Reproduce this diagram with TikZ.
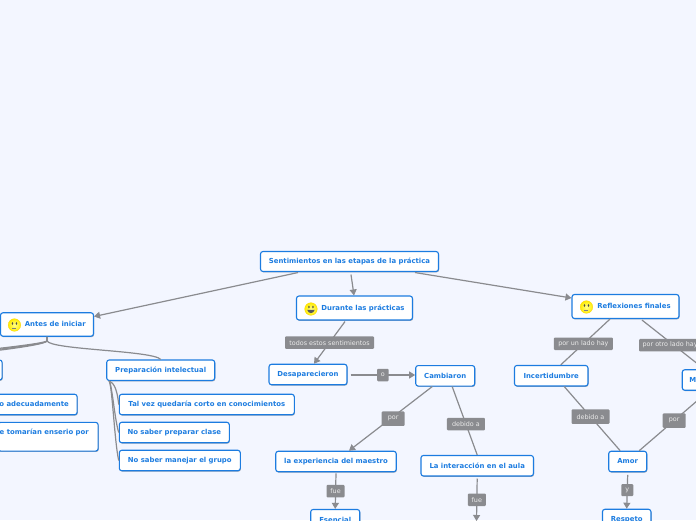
\documentclass[tikz,border=0pt]{standalone}
\usepackage{fontspec}
\setmainfont{DejaVu Sans}
\usetikzlibrary{arrows.meta,positioning,calc,shadows}
\definecolor{mapbg}{HTML}{F3F6FF}
\definecolor{mapblue}{HTML}{1C7CE0}
\definecolor{mapgray}{HTML}{8A8B8F}
\tikzset{
  carita/.pic={
    \shade[inner color=yellow!45!white,outer color=yellow!85!orange,draw=yellow!70!orange,line width=.3pt] (0,0) circle (6.3);
    \fill[black!70] (-2,-1.5) ellipse (.8 and 1.5) (2,-1.5) ellipse (.8 and 1.5);
    \draw[black!50,line width=.6pt] (-2,3) -- (2,3);
  },
  caritafeliz/.pic={
    \shade[inner color=yellow!45!white,outer color=yellow!85!orange,draw=yellow!70!orange,line width=.3pt] (0,0) circle (6.3);
    \fill[black!70] (-2,-2) ellipse (.8 and 1.5) (2,-2) ellipse (.8 and 1.5);
    \fill[black!65] (-3.8,.8) .. controls (-2.5,5.2) and (2.5,5.2) .. (3.8,.8) -- cycle;
  }
}
\begin{document}
\begin{tikzpicture}[x=1pt,y=-1pt,
    n/.style={draw=mapblue,fill=white,rounded corners=2.5pt,line width=1.1pt,inner sep=0pt,
    text=mapblue,text height=6pt,text depth=1.2pt,font=\fontsize{6.9}{9}\selectfont\bfseries,
    drop shadow={shadow xshift=.6pt,shadow yshift=-.9pt,opacity=.3,fill=black}},
    lab/.style={fill=mapgray,rounded corners=1pt,text=white!92!black,inner sep=0pt,minimum height=12.5pt,
    font=\fontsize{6.4}{8}\selectfont},
    a/.style={-{Triangle[length=6pt,width=7pt]},line width=1.2pt,mapgray},
    l/.style={line width=1.2pt,mapgray}]
    \path[use as bounding box,clip] (0,0) rectangle (696,520);
    \fill[mapbg] (0,0) rectangle (696,520);
    % nodos
    \node[n,minimum width=178pt,minimum height=20pt] (root) at (349.5,261.5) {Sentimientos en las etapas de la práctica};
    \node[n,minimum width=93pt,minimum height=23.5pt] (antes) at (47,324.5) {\hspace*{16.6pt}Antes de iniciar};
    \node[n,minimum width=116pt,minimum height=24pt] (durante) at (354.5,308) {\hspace*{17pt}Durante las prácticas};
    \node[n,minimum width=107pt,minimum height=24pt] (reflex) at (625.5,306.5) {\hspace*{17pt}Reflexiones finales};
    \node[n,minimum width=78pt,minimum height=20.5pt] (desap) at (308,374.5) {Desaparecieron};
    \node[n,minimum width=59pt,minimum height=20.5pt] (camb) at (445.2,375.8) {Cambiaron};
    \node[n,minimum width=120.5pt,minimum height=20.5pt] (exper) at (336,461.5) {la experiencia del maestro};
    \node[n,minimum width=112.5pt,minimum height=20.5pt] (inter) at (477.2,465.7) {La interacción en el aula};
    \node[n,minimum width=49pt,minimum height=20.5pt] (esen) at (335.2,519.7) {Esencial};
    \node[n,minimum width=73.5pt,minimum height=20.5pt] (incert) at (551.2,375.7) {Incertidumbre};
    \node[n,minimum width=40pt,minimum height=20.5pt,anchor=west,align=left,text width=32pt,inner xsep=7pt] (mm) at (681.7,380) {M\hfill};
    \node[n,minimum width=38pt,minimum height=20.5pt] (amor) at (627.7,461.5) {Amor};
    \node[n,minimum width=48.5pt,minimum height=20.5pt] (resp) at (626.7,519.5) {Respeto};
    \node[n,minimum width=120pt,minimum height=20pt,anchor=east] (izq) at (2.7,370) {};
    \node[n,minimum width=108pt,minimum height=20.5pt] (prep) at (160.7,370.2) {Preparación intelectual};
    \node[n,minimum width=86pt,minimum height=20.5pt,anchor=east] (adec) at (77.7,404.5) {o adecuadamente};
    \node[n,minimum width=100pt,minimum height=28.7pt,anchor=east] (ens) at (98.7,436.7) {};
    \node[anchor=east,text=mapblue,inner sep=0pt,text height=6pt,text depth=1.2pt,font=\fontsize{6.9}{9}\selectfont\bfseries] (enstxt) at (89,432.3) {e tomarían enserio por};
    \node[n,minimum width=175pt,minimum height=20.5pt] (tal) at (206.8,404.5) {Tal vez quedaría corto en conocimientos};
    \node[n,minimum width=110pt,minimum height=20.5pt] (clase) at (174.3,432.5) {No saber preparar clase};
    \node[n,minimum width=121pt,minimum height=20.5pt] (grupo) at (179.8,460.5) {No saber manejar el grupo};
    \coordinate (abajo) at (476.5,521);
    \coordinate (fuera1) at (-6,349);
    \coordinate (fuera2) at (-6,350);
    \coordinate (fuera3) at (-6,351);
    % caritas
    \pic at ($(antes.west)+(14.5,.5)$) {carita};
    \pic at ($(durante.west)+(15,1)$) {caritafeliz};
    \pic at ($(reflex.west)+(15,.5)$) {carita};
    % flechas
    \draw[a] ([xshift=-51.5pt,yshift=-.5pt]root.south) -- ([yshift=8pt]antes.east);
    \draw[a] ([xshift=1.5pt,yshift=-2.5pt]root.south) -- ([xshift=-.5pt]durante.north);
    \draw[a] ([xshift=65.5pt,yshift=-.5pt]root.south) -- ([yshift=8.5pt]reflex.west);
    \draw[a] ([xshift=-9.5pt,yshift=-1pt]durante.south) -- node[lab,minimum width=89pt,pos=.5] (t1) {todos estos sentimientos} ([xshift=6pt]desap.north);
    \draw[a] ([xshift=3pt,yshift=-.5pt]desap.east) -- node[lab,minimum width=11.5pt] (t2) {o} ([yshift=.8pt]camb.west);
    \draw[a] ([xshift=-13pt]camb.south) -- node[lab,minimum width=23pt,pos=.5,minimum height=14.5pt,xshift=2.5pt] (t3) {por} ([xshift=13pt]exper.north);
    \draw[l] ([xshift=7pt]camb.south) -- node[lab,minimum width=38pt,pos=.55] (t4) {debido a} (inter.north);
    \draw[a] ([yshift=-1pt]exper.south) -- node[lab,minimum width=18pt] (t5) {fue} (esen.north);
    \draw[a] ([yshift=-2pt]inter.south) -- node[lab,minimum width=18pt,pos=.5] (t6) {fue} (abajo);
    \draw[l] ([xshift=-15.5pt]reflex.south) -- node[lab,minimum width=59pt,pos=.54] (t7) {por un lado hay} ([xshift=9.5pt]incert.north);
    \draw[l] ([xshift=16.5pt,yshift=-1pt]reflex.south) -- node[lab,minimum width=62pt,pos=.48,yshift=-3pt] (t8) {por otro lado hay} ([xshift=-4.7pt,yshift=3pt]mm.north);
    \draw[l] ([xshift=13pt]incert.south) -- node[lab,minimum width=38pt,minimum height=14.5pt,pos=.47] (t9) {debido a} ([xshift=-7.5pt]amor.north);
    \draw[l] ([yshift=-3pt]mm.south) -- node[lab,minimum width=23pt,minimum height=14.5pt,pos=.47] (t10) {por} ([xshift=11.5pt]amor.north);
    \draw[a] ([yshift=-2.5pt]amor.south) -- node[lab,minimum width=12pt,minimum height=12pt,pos=.45] (t11) {y} (resp.north);
    % ramas
    \draw[l] (antes.south) -- ++(0,4) .. controls +(0,3) and +(-30,3) .. (fuera1);
    \draw[l] (antes.south) -- ++(0,4) .. controls +(0,4) and +(-30,3) .. (fuera2);
    \draw[l] (antes.south) -- ++(0,4) .. controls +(0,5) and +(-30,3) .. (fuera3);
    \draw[l] (antes.south) -- ++(0,4) .. controls +(3,9) and +(-8,-9) .. (prep.north);
    \draw[l] ([xshift=3pt]prep.south west) .. controls +(4,2) and +(-2,-18) .. (tal.west);
    \draw[l] ([xshift=3pt]prep.south west) .. controls +(3,4) and +(-4,-12) .. (clase.west);
    \draw[l] ([xshift=3pt]prep.south west) .. controls +(3,4) and +(-4,-16) .. (grupo.west);
\end{tikzpicture}
\end{document}
